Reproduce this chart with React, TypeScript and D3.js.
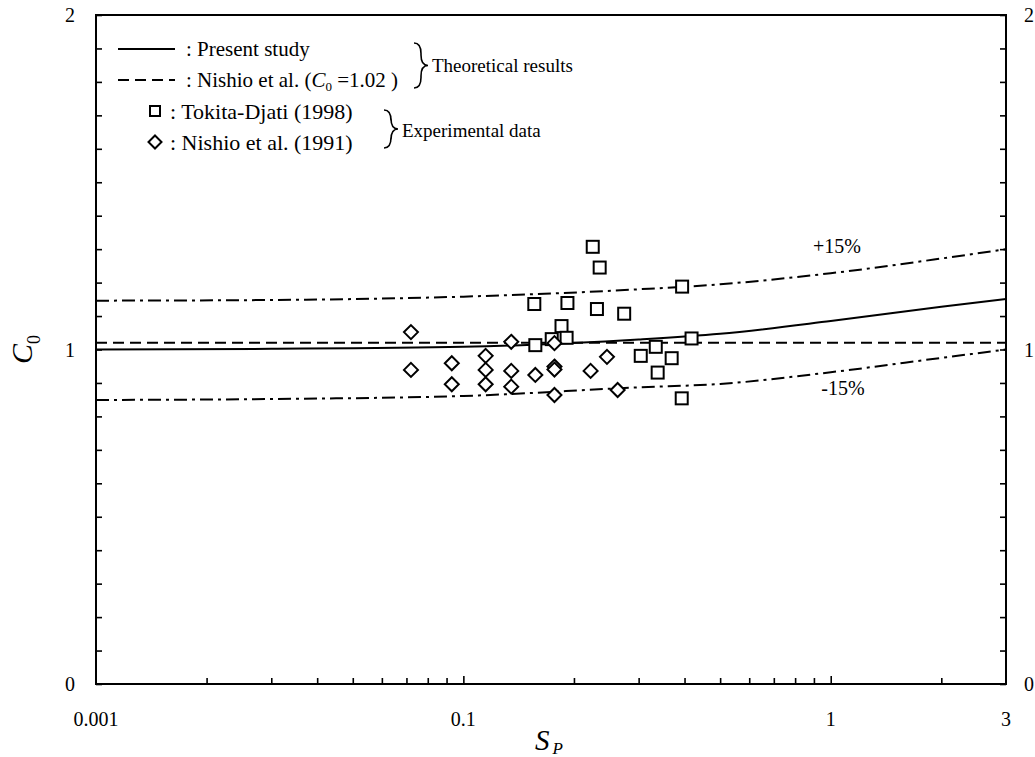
import React, { useRef, useEffect } from "react";
import * as d3 from "d3";

const W = 1035;
const H = 757;
const FONT = "'Liberation Serif', 'Times New Roman', serif";

// axis ticks (the original's first label reads 0.001 although the decade starts at 0.01)
const xTickValues = [0.01, 0.1, 1, 3];
const xTickLabels = ["0.001", "0.1", "1", "3"];
const yTickLabels = [0, 1, 2];

// theoretical curves
const curveSp = [0.01, 0.03, 0.1, 0.3, 0.5, 1, 2, 3];
const presentStudy = [1.0, 1.002, 1.008, 1.03, 1.047, 1.085, 1.128, 1.151];
const plus15 = [1.146, 1.148, 1.158, 1.18, 1.195, 1.228, 1.272, 1.3];
const minus15 = [0.849, 0.852, 0.861, 0.887, 0.897, 0.932, 0.975, 1.0];
const nishioTheorySp = [0.01, 3];
const nishioTheory = [1.02, 1.02];

// Tokita-Djati (1998)
const tokitaSp = [0.225, 0.235, 0.394, 0.156, 0.192, 0.231, 0.274, 0.185, 0.191, 0.174, 0.157, 0.418, 0.334, 0.304, 0.369, 0.338, 0.393];
const tokitaC0 = [1.307, 1.245, 1.188, 1.136, 1.139, 1.121, 1.107, 1.07, 1.035, 1.031, 1.013, 1.033, 1.008, 0.981, 0.974, 0.931, 0.854];

// Nishio et al. (1991)
const nishioSp = [0.072, 0.072, 0.093, 0.093, 0.115, 0.115, 0.115, 0.135, 0.135, 0.135, 0.157, 0.177, 0.177, 0.177, 0.177, 0.222, 0.246, 0.263];
const nishioC0 = [1.052, 0.939, 0.959, 0.896, 0.981, 0.939, 0.896, 1.023, 0.936, 0.889, 0.924, 1.019, 0.949, 0.94, 0.864, 0.936, 0.978, 0.879];

// right-facing curly brace
function bracePath(x0: number, y0: number, y1: number, w: number) {
  const ym = (y0 + y1) / 2;
  const h = w / 2;
  return `M${x0},${y0} Q${x0 + h},${y0} ${x0 + h},${y0 + h * 1.5} L${x0 + h},${ym - h * 1.5} Q${x0 + h},${ym} ${x0 + w},${ym} Q${x0 + h},${ym} ${x0 + h},${ym + h * 1.5} L${x0 + h},${y1 - h * 1.5} Q${x0 + h},${y1} ${x0},${y1}`;
}

function App() {
  const svgRef = useRef(null);

  useEffect(() => {
    const svg = d3.select(svgRef.current);
    svg.selectAll("*").remove();

    const x = d3.scaleLog().domain([0.01, 3]).range([96, 1006]);
    const y = d3.scaleLinear().domain([0, 2]).range([684, 15]);
    const [x0, x1] = x.range();
    const [y0, y1] = y.range();

    // ticks (inward)
    const yTicks = d3.range(0, 21).map((i) => i / 10);
    const left = svg.append("g").attr("transform", `translate(${x0},0)`)
      .call(d3.axisLeft(y).tickValues(yTicks).tickSize(-6).tickFormat(() => ""));
    const right = svg.append("g").attr("transform", `translate(${x1},0)`)
      .call(d3.axisRight(y).tickValues(yTicks).tickSize(-6).tickFormat(() => ""));
    const isDecade = (v: number) => Math.abs(Math.log10(v) - Math.round(Math.log10(v))) < 1e-6;
    const minorX = x.ticks().filter((v) => v > 0.01 && v < 3 && !isDecade(v));
    const majorX = x.ticks().filter((v) => v > 0.01 && v < 3 && isDecade(v));
    const bottom = svg.append("g").attr("transform", `translate(0,${y0})`)
      .call(d3.axisBottom(x).tickValues(minorX).tickSize(-6).tickFormat(() => ""));
    const bottomMajor = svg.append("g").attr("transform", `translate(0,${y0})`)
      .call(d3.axisBottom(x).tickValues(majorX).tickSize(-8).tickFormat(() => ""));
    [left, right, bottom, bottomMajor].forEach((g) => {
      g.select(".domain").remove();
      g.selectAll("line").attr("stroke", "#000").attr("stroke-width", 1.6);
    });

    // frame
    svg.append("rect")
      .attr("x", x0).attr("y", y1).attr("width", x1 - x0).attr("height", y0 - y1)
      .attr("fill", "none").attr("stroke", "#000").attr("stroke-width", 2);

    // tick labels
    svg.append("g").selectAll("text").data(xTickValues).join("text")
      .attr("x", (d) => x(d)).attr("y", 726)
      .attr("text-anchor", "middle").attr("font-family", FONT).attr("font-size", 20)
      .text((d, i) => xTickLabels[i]);
    svg.append("g").selectAll("text").data(yTickLabels).join("text")
      .attr("x", 70).attr("y", (d) => y(d) + 7)
      .attr("text-anchor", "middle").attr("font-family", FONT).attr("font-size", 20)
      .text((d) => d);
    svg.append("g").selectAll("text").data(yTickLabels).join("text")
      .attr("x", 1029).attr("y", (d) => y(d) + 7)
      .attr("text-anchor", "middle").attr("font-family", FONT).attr("font-size", 20)
      .text((d) => d);

    // curves
    const line = d3.line<[number, number]>()
      .x((d) => x(d[0])).y((d) => y(d[1])).curve(d3.curveMonotoneX);
    const curves = [
      { sp: curveSp, c: plus15, dash: "13,5,3,5" },
      { sp: curveSp, c: minus15, dash: "13,5,3,5" },
      { sp: nishioTheorySp, c: nishioTheory, dash: "11,6" },
      { sp: curveSp, c: presentStudy, dash: null },
    ];
    curves.forEach((cv) => {
      svg.append("path")
        .attr("d", line(cv.sp.map((s, i) => [s, cv.c[i]] as [number, number])))
        .attr("fill", "none").attr("stroke", "#000").attr("stroke-width", 2)
        .attr("stroke-dasharray", cv.dash);
    });

    // data points
    const sq = 12;
    svg.append("g").selectAll("rect").data(tokitaSp).join("rect")
      .attr("x", (d) => x(d) - sq / 2).attr("y", (d, i) => y(tokitaC0[i]) - sq / 2)
      .attr("width", sq).attr("height", sq)
      .attr("fill", "#fff").attr("stroke", "#000").attr("stroke-width", 2);
    const diamond = (cx: number, cy: number, r = 7) =>
      `M${cx},${cy - r} L${cx + r},${cy} L${cx},${cy + r} L${cx - r},${cy} Z`;
    svg.append("g").selectAll("path").data(nishioSp).join("path")
      .attr("d", (d, i) => diamond(x(d), y(nishioC0[i])))
      .attr("fill", "#fff").attr("stroke", "#000").attr("stroke-width", 2);

    // band labels
    svg.append("text").attr("x", 837).attr("y", 253).attr("text-anchor", "middle")
      .attr("font-family", FONT).attr("font-size", 20).text("+15%");
    svg.append("text").attr("x", 843).attr("y", 395).attr("text-anchor", "middle")
      .attr("font-family", FONT).attr("font-size", 20).text("-15%");

    // legend
    const lg = svg.append("g").attr("font-family", FONT).attr("font-size", 21);
    lg.append("line").attr("x1", 118).attr("x2", 175).attr("y1", 49).attr("y2", 49)
      .attr("stroke", "#000").attr("stroke-width", 2);
    lg.append("text").attr("x", 186).attr("y", 56).text(": Present study");
    lg.append("line").attr("x1", 118).attr("x2", 175).attr("y1", 80).attr("y2", 80)
      .attr("stroke", "#000").attr("stroke-width", 2).attr("stroke-dasharray", "11,6");
    const t2 = lg.append("text").attr("x", 186).attr("y", 87);
    t2.append("tspan").text(": Nishio et al. (");
    t2.append("tspan").attr("font-style", "italic").text("C");
    t2.append("tspan").attr("font-size", 13).attr("dy", 4).text("0");
    t2.append("tspan").attr("dy", -4).text(" =1.02 )");
    lg.append("rect").attr("x", 150).attr("y", 106).attr("width", 10).attr("height", 10)
      .attr("fill", "#fff").attr("stroke", "#000").attr("stroke-width", 2);
    lg.append("text").attr("x", 170).attr("y", 119).attr("font-size", 22).text(": Tokita-Djati (1998)");
    lg.append("path").attr("d", diamond(155, 142, 6.5))
      .attr("fill", "#fff").attr("stroke", "#000").attr("stroke-width", 2);
    lg.append("text").attr("x", 170).attr("y", 150).attr("font-size", 22).text(": Nishio et al. (1991)");

    lg.append("path").attr("d", bracePath(414, 43, 88, 14))
      .attr("fill", "none").attr("stroke", "#000").attr("stroke-width", 1.6);
    lg.append("text").attr("x", 432).attr("y", 72).attr("font-size", 19).text("Theoretical results");
    lg.append("path").attr("d", bracePath(384, 110, 148, 14))
      .attr("fill", "none").attr("stroke", "#000").attr("stroke-width", 1.6);
    lg.append("text").attr("x", 402).attr("y", 137).attr("font-size", 19).text("Experimental data");

    // axis titles
    const yt = svg.append("text").attr("transform", "translate(32,364) rotate(-90)")
      .attr("font-family", FONT).attr("font-size", 30);
    yt.append("tspan").attr("font-style", "italic").text("C");
    yt.append("tspan").attr("font-size", 18).attr("dy", 8).text("0");

    const xt = svg.append("text").attr("x", 535).attr("y", 750)
      .attr("font-family", FONT).attr("font-size", 29);
    xt.append("tspan").attr("font-style", "italic").text("S");
    xt.append("tspan").attr("font-style", "italic").attr("font-size", 17).attr("dx", 3).attr("dy", 4).text("P");
  }, []);

  return (
    <svg
      ref={svgRef}
      width={W}
      height={H}
      style={{ position: "absolute", left: 0, top: 0, background: "#fff" }}
    />
  );
}

export default App;
